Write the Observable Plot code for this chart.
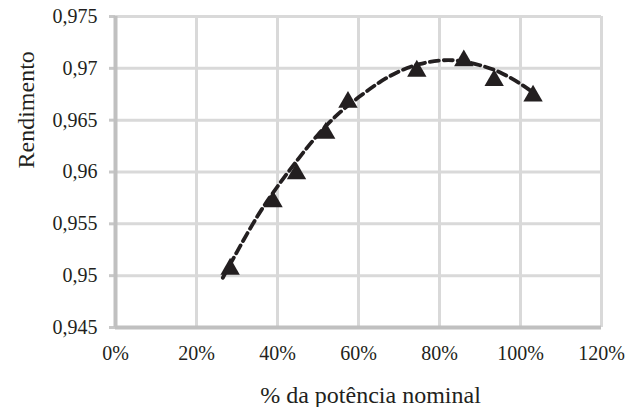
<!DOCTYPE html>
<html>
<head>
<meta charset="utf-8">
<script src="https://cdn.jsdelivr.net/npm/d3@7"></script>
<script src="https://cdn.jsdelivr.net/npm/@observablehq/plot@0.6"></script>
<style>
  html, body { margin: 0; padding: 0; background: #fff; font-family: 'Liberation Serif'; }
</style>
</head>
<body>
<div id="chart"></div>
<script>
// Measured points (% of nominal power, efficiency)
const potencia = [28.3, 38.9, 44.7, 51.9, 57.4, 74.4, 86.0, 93.5, 103.1];
const rendimento = [0.9509, 0.9574, 0.9601, 0.9640, 0.9670, 0.9700, 0.9710, 0.9691, 0.9676];

// Dashed trend line
const trendX = [26.5, 30, 35, 40, 45, 50, 55, 60, 65, 70, 75, 80, 85, 90, 95, 100, 103];
const trendY = [0.9498, 0.9523, 0.9557, 0.9586, 0.9612, 0.9636, 0.9656, 0.9672, 0.9686, 0.9697, 0.9704, 0.97075, 0.97072, 0.9703, 0.9696, 0.9685, 0.9677];

const xTicks = [0, 20, 40, 60, 80, 100, 120];
const yTicks = [0.945, 0.95, 0.955, 0.96, 0.965, 0.97, 0.975];

const xTitle = "% da potência nominal";
const yTitle = "Rendimento";

const points = potencia.map((x, i) => ({x, y: rendimento[i]}));
const trend = trendX.map((x, i) => ({x, y: trendY[i]}));

const ink = "#231f20";
const serif = "Liberation Serif";

const chart = Plot.plot({
  width: 642,
  height: 407,
  marginLeft: 115,
  marginRight: 41,
  marginTop: 16,
  marginBottom: 80,
  style: {background: "#fff", color: ink, overflow: "visible", fontFamily: serif},
  x: {domain: [0, 120]},
  y: {domain: [0.945, 0.975]},
  marks: [
    Plot.gridX(xTicks, {stroke: "#d9d9d9", strokeOpacity: 1, strokeWidth: 3}),
    Plot.gridY(yTicks, {stroke: "#d9d9d9", strokeOpacity: 1, strokeWidth: 3}),
    Plot.axisY({
      ticks: yTicks, tickSize: 6, tickPadding: 12, stroke: "#c8c8c8", strokeWidth: 3,
      tickFormat: d => d3.format(".3~f")(d).replace(".", ","),
      fill: ink, fontSize: 20, fontFamily: serif, fontVariant: "normal", label: null
    }),
    Plot.axisX({
      ticks: xTicks, tickSize: 0, tickPadding: 18,
      tickFormat: d => d + "%", fill: ink, fontSize: 20, fontFamily: serif, fontVariant: "normal", label: null
    }),
    Plot.ruleX([0], {stroke: "#c0c0c0", strokeWidth: 4}),
    Plot.ruleY([0.945], {stroke: "#c0c0c0", strokeWidth: 4}),
    Plot.line(trend, {x: "x", y: "y", stroke: ink, strokeWidth: 3.8, strokeDasharray: "9,5", curve: "natural"}),
    Plot.dot(points, {x: "x", y: "y", symbol: "triangle", r: 7.2, fill: ink, stroke: "none", dy: 2.7}),
    Plot.text([xTitle], {frameAnchor: "bottom", lineAnchor: "bottom", dx: 12, dy: 75, fontSize: 24, fontFamily: serif, fill: ink}),
    Plot.text([yTitle], {frameAnchor: "left", lineAnchor: "bottom", rotate: -90, dx: -82, dy: -3.5, fontSize: 24, fontFamily: serif, fill: ink})
  ]
});

document.getElementById("chart").appendChild(chart);
</script>
</body>
</html>
